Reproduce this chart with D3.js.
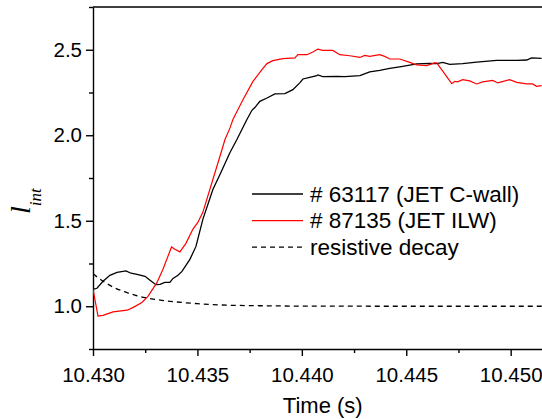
<!DOCTYPE html>
<html lang="en">
<head>
<meta charset="UTF-8">
<title>l_int vs time</title>
<script src="https://d3js.org/d3.v7.min.js"></script>
<style>
  body { margin: 0; background: #fff; }
  text { font-family: "Liberation Sans", Arial, sans-serif; }
  .axis path, .axis line { stroke: #000; stroke-width: 1.4; }
  .axis text { font-size: 20.5px; fill: #000; }
</style>
</head>
<body>
<svg width="542" height="419"></svg>
<script>
// shot 63117 (C-wall)
const cwallTime = [10.43000,10.43019,10.43048,10.43081,10.43115,10.43158,10.43182,10.43211,10.43249,10.43273,
  10.43301,10.43321,10.43344,10.43368,10.43383,10.43407,10.43426,10.43445,10.43464,10.43493,10.43526,10.43574,
  10.43608,10.43656,10.43689,10.43737,10.43761,10.43775,10.43799,10.43833,10.43871,10.43919,10.43957,10.43990,
  10.44005,10.44038,10.44072,10.44077,10.44100,10.44167,10.44206,10.44278,10.44325,10.44373,10.44421,10.44483,
  10.44550,10.44612,10.44646,10.44675,10.44708,10.44770,10.44837,10.44933,10.45029,10.45077,10.45100,10.45148];
const cwallVal = [1.099,1.105,1.146,1.181,1.198,1.207,1.193,1.187,1.175,1.152,
  1.126,1.128,1.140,1.140,1.163,1.181,1.204,1.239,1.274,1.350,1.508,1.683,
  1.771,1.899,1.975,2.092,2.146,2.162,2.198,2.218,2.242,2.243,2.267,2.306,
  2.329,2.339,2.349,2.353,2.343,2.344,2.343,2.349,2.370,2.379,2.391,2.403,
  2.417,2.420,2.419,2.426,2.414,2.419,2.428,2.438,2.438,2.440,2.452,2.450];

// shot 87135 (ILW)
const ilwTime = [10.43000,10.43024,10.43048,10.43096,10.43163,10.43191,10.43234,10.43263,10.43306,10.43335,
  10.43376,10.43392,10.43416,10.43445,10.43478,10.43502,10.43526,10.43574,10.43608,10.43632,10.43656,10.43670,
  10.43718,10.43766,10.43809,10.43833,10.43861,10.43909,10.43967,10.43981,10.44024,10.44053,10.44077,10.44100,
  10.44148,10.44182,10.44230,10.44278,10.44301,10.44325,10.44373,10.44397,10.44421,10.44469,10.44517,10.44550,
  10.44598,10.44636,10.44646,10.44718,10.44732,10.44746,10.44770,10.44804,10.44837,10.44866,10.44914,10.44938,
  10.44995,10.45029,10.45077,10.45105,10.45124,10.45148];
const ilwVal = [1.099,0.943,0.947,0.967,0.977,0.992,1.022,1.058,1.138,1.216,
  1.347,1.333,1.318,1.368,1.450,1.490,1.549,1.741,1.877,1.975,2.043,2.092,
  2.208,2.315,2.384,2.419,2.436,2.448,2.452,2.471,2.471,2.487,2.504,2.496,
  2.496,2.471,2.465,2.455,2.467,2.461,2.471,2.461,2.446,2.446,2.426,2.411,
  2.407,2.423,2.423,2.302,2.315,2.312,2.325,2.318,2.300,2.312,2.321,2.306,
  2.325,2.309,2.300,2.300,2.286,2.290];

// resistive decay
const decayTime = [10.4300,10.4305,10.4310,10.4315,10.4320,10.4325,10.4330,10.4335,10.4340,10.4350,10.4360,10.4380,10.4400,10.4450,10.4515];
const decayVal  = [1.190,1.145,1.110,1.085,1.065,1.050,1.040,1.031,1.025,1.015,1.008,1.003,1.001,1.000,1.000];

const xTicks = [10.430, 10.435, 10.440, 10.445, 10.450];
const xMinor = [10.4325, 10.4375, 10.4425, 10.4475];
const yTicks = [1.0, 1.5, 2.0, 2.5];
const yMinor = [0.75, 1.25, 1.75, 2.25, 2.75];

const legendItems = [
  {label: "# 63117 (JET C-wall)", color: "#000", dash: null},
  {label: "# 87135 (JET ILW)", color: "#ff0000", dash: null},
  {label: "resistive decay", color: "#000", dash: "5,4"}
];

const W = 542, H = 419;
const margin = {top: 7, right: 0, bottom: 70, left: 93};
const iw = W - margin.left - margin.right;
const ih = H - margin.top - margin.bottom;

const svg = d3.select("svg");
const g = svg.append("g").attr("transform", `translate(${margin.left},${margin.top})`);

const x = d3.scaleLinear().domain([10.430, 10.4515]).range([0, iw]);
const y = d3.scaleLinear().domain([0.75, 2.75]).range([ih, 0]);

g.append("defs").append("clipPath").attr("id", "clip")
  .append("rect").attr("width", iw).attr("height", ih);

// minor ticks
g.append("g").attr("class", "axis").attr("transform", `translate(0,${ih})`)
  .call(d3.axisBottom(x).tickValues(xMinor).tickSize(4).tickSizeOuter(0).tickFormat(""))
  .select(".domain").remove();
g.append("g").attr("class", "axis")
  .call(d3.axisLeft(y).tickValues(yMinor).tickSize(4).tickSizeOuter(0).tickFormat(""))
  .select(".domain").remove();

// main axes
const xAxis = g.append("g").attr("class", "axis").attr("transform", `translate(0,${ih})`)
  .call(d3.axisBottom(x).tickValues(xTicks).tickSize(7).tickSizeOuter(0).tickFormat(d3.format(".3f")));
xAxis.selectAll(".tick text").attr("dy", "1.1em");

const yAxis = g.append("g").attr("class", "axis")
  .call(d3.axisLeft(y).tickValues(yTicks).tickSize(7).tickSizeOuter(0).tickFormat(d3.format(".1f")));
yAxis.selectAll(".tick text").attr("x", -11);

// top frame
g.append("line").attr("x1", 0).attr("x2", iw).attr("y1", 0).attr("y2", 0)
  .attr("stroke", "#000").attr("stroke-width", 1.4);

const line = d3.line().x(d => x(d[0])).y(d => y(d[1]));
const plot = g.append("g").attr("clip-path", "url(#clip)");

plot.append("path").datum(d3.zip(decayTime, decayVal))
  .attr("d", line.curve(d3.curveMonotoneX)).attr("fill", "none")
  .attr("stroke", "#000").attr("stroke-width", 1.3).attr("stroke-dasharray", "5,4");
line.curve(d3.curveLinear);
plot.append("path").datum(d3.zip(cwallTime, cwallVal))
  .attr("d", line).attr("fill", "none").attr("stroke", "#000").attr("stroke-width", 1.3);
plot.append("path").datum(d3.zip(ilwTime, ilwVal))
  .attr("d", line).attr("fill", "none").attr("stroke", "#ff0000").attr("stroke-width", 1.2);

// legend
const leg = svg.append("g").attr("transform", "translate(252,194)");
legendItems.forEach((d, i) => {
  const row = leg.append("g").attr("transform", `translate(0,${i * 26.6})`);
  row.append("line").attr("x1", 0).attr("x2", 51).attr("y1", 0).attr("y2", 0)
    .attr("stroke", d.color).attr("stroke-width", 1.3)
    .attr("stroke-dasharray", d.dash);
  row.append("text").attr("x", 58).attr("y", 7.5).attr("font-size", "22.5px").text(d.label);
});

// axis titles
svg.append("text").attr("x", margin.left + x(10.441)).attr("y", 413)
  .attr("text-anchor", "middle").attr("font-size", "22px").text("Time (s)");

const yl = svg.append("text").attr("transform", "translate(30,214) rotate(-90)")
  .style("font-family", "'Liberation Serif', 'Times New Roman', serif").style("font-style", "italic");
yl.append("tspan").attr("font-size", "28px").text("l");
yl.append("tspan").attr("font-size", "17px").attr("dy", 11).text("int");
</script>
</body>
</html>
